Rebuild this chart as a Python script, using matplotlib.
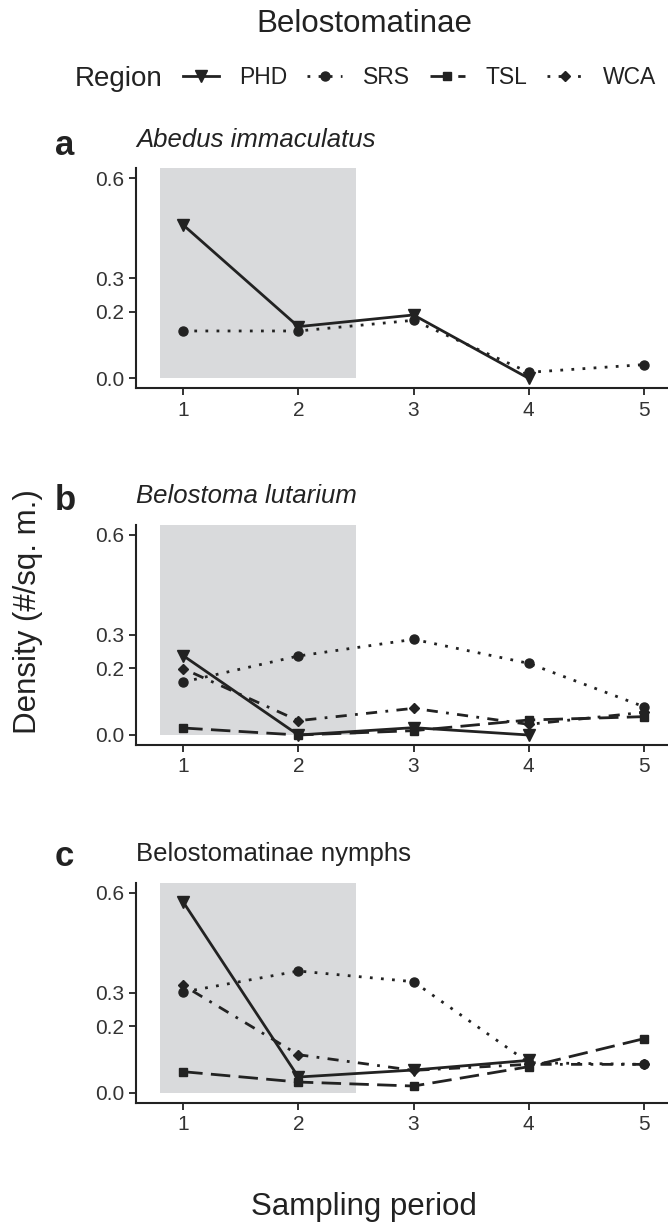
import matplotlib
matplotlib.use('Agg')
import matplotlib.pyplot as plt
from matplotlib.lines import Line2D
import numpy as np

plt.rcParams['font.family'] = ['Liberation Sans', 'DejaVu Sans']

nan = np.nan
periods = [1, 2, 3, 4, 5]
regions = ['PHD', 'SRS', 'TSL', 'WCA']

# panel a - Abedus immaculatus
a_vals = {
    'PHD': [0.460, 0.155, 0.190, 0.000, nan],
    'SRS': [0.142, 0.142, 0.174, 0.018, 0.041],
}
# panel b - Belostoma lutarium
b_vals = {
    'PHD': [0.238, 0.000, 0.022, 0.000, nan],
    'SRS': [0.159, 0.237, 0.287, 0.215, 0.085],
    'TSL': [0.021, 0.000, 0.013, 0.045, 0.055],
    'WCA': [0.199, 0.043, 0.080, 0.032, 0.068],
}
# panel c - nymphs
c_vals = {
    'PHD': [0.572, 0.047, 0.068, 0.097, nan],
    'SRS': [0.302, 0.365, 0.333, 0.090, 0.085],
    'TSL': [0.063, 0.032, 0.020, 0.078, 0.162],
    'WCA': [0.322, 0.114, 0.067, 0.085, 0.085],
}
panels = [('a', 'Abedus immaculatus', True, a_vals),
          ('b', 'Belostoma lutarium', True, b_vals),
          ('c', 'Belostomatinae nymphs', False, c_vals)]

yticks = [0.0, 0.2, 0.3, 0.6]
shade = (0.8, 2.5)   # grey period

ink = '#222222'
styles = {
    'PHD': dict(marker='v', ls='-', ms=8),
    'SRS': dict(marker='o', ls=(0, (1, 3)), ms=6.5),
    'TSL': dict(marker='s', ls=(0, (7, 3)), ms=5.5),
    'WCA': dict(marker='D', ls=(0, (1, 3, 4, 3)), ms=5.5),
}
lw = 2.0

fig = plt.figure(figsize=(6.68, 12.24), dpi=100)

W, H = 668, 1224
left = 136 / W
width = 1 - left
ax_h = 220 / H
bottoms = [1 - 388.3 / H, 1 - 745 / H, 1 - 1102.7 / H]
letter_base = [155, 510, 866]
sub_base = [147, 503, 861]

for i, (letter, name, italic, vals) in enumerate(panels):
    ax = fig.add_axes([left, bottoms[i], width, ax_h])
    ax.set_ylim(-0.03, 0.63)
    ax.set_xlim(0.59, 5.21)
    ax.axvspan(shade[0], shade[1], ymin=0.03 / 0.66, ymax=1, color='#d9dadc', lw=0, zorder=0)
    for r in regions:
        if r not in vals:
            continue
        st = styles[r]
        ax.plot(periods, vals[r], color=ink, lw=lw, ls=st['ls'], marker=st['marker'],
                ms=st['ms'], mfc=ink, mec=ink, zorder=3)
    for s in ['top', 'right']:
        ax.spines[s].set_visible(False)
    for s in ['left', 'bottom']:
        ax.spines[s].set_linewidth(1.5)
        ax.spines[s].set_color(ink)
    ax.set_yticks(yticks)
    ax.set_yticklabels(['0.0', '0.2', '0.3', '0.6'])
    ax.set_xticks(periods)
    ax.tick_params(length=5, width=1.3, color=ink, labelcolor='#333333', labelsize=15, pad=3.5)
    ax.tick_params(axis='x', pad=4)
    ax.patch.set_alpha(0)

    fig.text(55 / W, 1 - letter_base[i] / H, letter, fontsize=25, fontweight='bold',
             color=ink, va='baseline', ha='left')
    fig.text(left, 1 - sub_base[i] / H, name, fontsize=18.5,
             style='italic' if italic else 'normal', color=ink, va='baseline', ha='left')

# title, axis labels
fig.text(364 / W, 1 - 32 / H, 'Belostomatinae', fontsize=22.5, color=ink, ha='center', va='baseline')
fig.text(28 / W, 0.5, 'Density (#/sq. m.)', fontsize=22.5, color=ink, rotation=90,
         ha='center', va='center')
fig.text(364 / W, 1 - 1215 / H, 'Sampling period', fontsize=22.5, color=ink,
         ha='center', va='baseline')

# legend
fig.text(75 / W, 1 - 86 / H, 'Region', fontsize=20, color=ink, ha='left', va='baseline')
handles = [Line2D([], [], color=ink, lw=lw, ls=styles[r]['ls'], marker=styles[r]['marker'],
                  ms=styles[r]['ms']) for r in regions]
fig.legend(handles, regions, ncol=4, loc='center left', bbox_to_anchor=(183 / W, 1 - 78 / H),
           frameon=False, fontsize=16.5, handlelength=1.55, handletextpad=0.9,
           columnspacing=0.85, borderpad=0, borderaxespad=0, labelcolor=ink)

fig.savefig('out.png', dpi=100)
